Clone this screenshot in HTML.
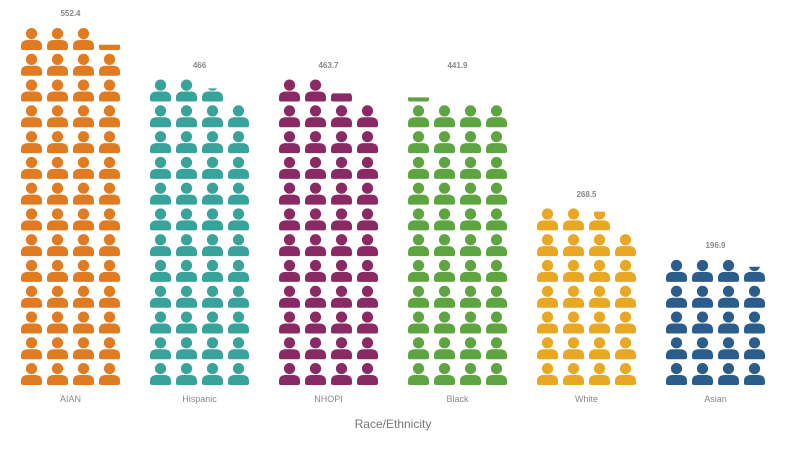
<!DOCTYPE html>
<html><head><meta charset="utf-8"><style>
body{margin:0;background:#fff;width:801px;height:449px;overflow:hidden}
text{font-family:"Liberation Sans",sans-serif}
</style></head><body>
<svg id="s" width="801" height="449" xmlns="http://www.w3.org/2000/svg">
<defs></defs>
<g font-size="8" font-weight="bold" fill="#888" text-anchor="middle">
<text x="70.5" y="16">552.4</text>
<text x="199.5" y="68">466</text>
<text x="328.5" y="68">463.7</text>
<text x="457.5" y="68">441.9</text>
<text x="586.5" y="197">268.5</text>
<text x="715.5" y="248">196.9</text>
</g>
<g font-size="9" fill="#888" text-anchor="middle">
<text x="70.5" y="402">AIAN</text>
<text x="199.5" y="402">Hispanic</text>
<text x="328.5" y="402">NHOPI</text>
<text x="457.5" y="402">Black</text>
<text x="586.5" y="402">White</text>
<text x="715.5" y="402">Asian</text>
</g>
<text x="393" y="428" font-size="12" fill="#777" text-anchor="middle">Race/Ethnicity</text>
<g id="icons"></g>
</svg>
<script>
var data=[[552.4,"#E07B22"],[466,"#38A39B"],[463.7,"#8A2A64"],[441.9,"#5EA542"],[268.5,"#E8A823"],[196.9,"#2A5C8C"]];
var ns="http://www.w3.org/2000/svg",G=document.getElementById("icons"),S=document.getElementById("s");
var defs=S.querySelector("defs"),cid=0;
function icon(parent,col){
  var c=document.createElementNS(ns,"circle");c.setAttribute("cx",10.5);c.setAttribute("cy",5.6);c.setAttribute("r",5.6);c.setAttribute("fill",col);
  var p=document.createElementNS(ns,"path");p.setAttribute("d","M0,20 L0,18 Q0,12 7,12 L14,12 Q21,12 21,18 L21,20 Q21,22 19,22 L2,22 Q0,22 0,20 Z");p.setAttribute("fill",col);
  parent.appendChild(c);parent.appendChild(p);
}
data.forEach(function(d,gi){
  var n=d[0]/10,x0=21+gi*129;
  var full=Math.floor(n),frac=n-full,total=Math.ceil(n);
  for(var i=0;i<total;i++){
    var r=Math.floor(i/4),c=i%4;
    var x=x0+c*26,y=385-r*25.77-22;
    var g=document.createElementNS(ns,"g");
    g.setAttribute("transform","translate("+x+","+y+")");
    if(i===full){
      var cp=document.createElementNS(ns,"clipPath");cp.setAttribute("id","c"+cid);
      var rc=document.createElementNS(ns,"rect");var h=22*frac;
      rc.setAttribute("x",x-1);rc.setAttribute("y",y+22-h);rc.setAttribute("width",23);rc.setAttribute("height",h);
      cp.appendChild(rc);defs.appendChild(cp);
      var outer=document.createElementNS(ns,"g");outer.setAttribute("clip-path","url(#c"+cid+")");cid++;
      icon(g,d[1]);outer.appendChild(g);G.appendChild(outer);
    } else {icon(g,d[1]);G.appendChild(g);}
  }
});
</script>
</body></html>
